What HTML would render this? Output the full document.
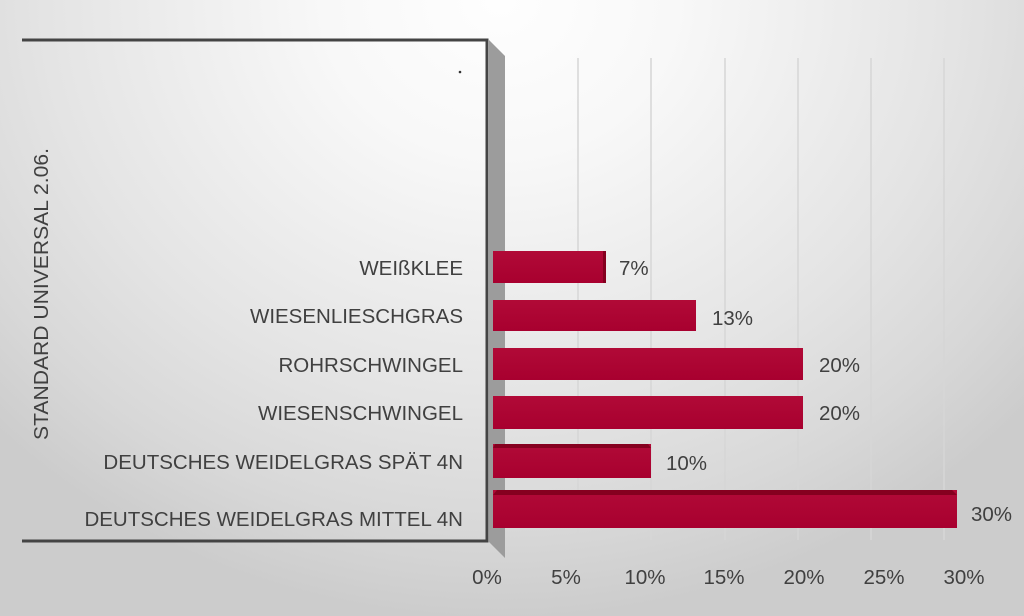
<!DOCTYPE html>
<html><head><style>
html,body{margin:0;padding:0;width:1024px;height:616px;overflow:hidden}
body{background:radial-gradient(ellipse 700px 620px at 500px 0px,#fefefe 0%,#f8f8f8 25%,#eeeeee 45%,#e4e4e4 65%,#d8d8d8 85%,#cccccc 100%)}
text{font-family:"Liberation Sans","DejaVu Sans",sans-serif;fill:#404040}
</style></head><body>
<svg width="1024" height="616" viewBox="0 0 1024 616" xmlns="http://www.w3.org/2000/svg">
<defs>
<linearGradient id="bar" x1="0" y1="0" x2="0" y2="1"><stop offset="0" stop-color="#b10a37"/><stop offset="1" stop-color="#a8002f"/></linearGradient>
</defs>
<polygon points="489,40 505,56 505,558 489,542" fill="#9c9c9c"/>
<g stroke="#d6d6d6" stroke-width="1.5">
<line x1="578" y1="58" x2="578" y2="540"/>
<line x1="651" y1="58" x2="651" y2="540"/>
<line x1="725" y1="58" x2="725" y2="540"/>
<line x1="798" y1="58" x2="798" y2="540"/>
<line x1="871" y1="58" x2="871" y2="540"/>
<line x1="944" y1="58" x2="944" y2="540"/>
</g>
<polyline points="22,40 487,40 487,541 22,541" fill="none" stroke="#444" stroke-width="3"/>
<circle cx="460" cy="72" r="1.3" fill="#333"/>
<text transform="translate(48,294) rotate(-90)" text-anchor="middle" font-size="20.5" textLength="292" lengthAdjust="spacingAndGlyphs">STANDARD UNIVERSAL 2.06.</text>
<g fill="url(#bar)">
<rect x="493" y="251" width="113" height="32"/>
<rect x="493" y="300" width="203" height="31"/>
<rect x="493" y="348" width="310" height="32"/>
<rect x="493" y="396" width="310" height="33"/>
<rect x="493" y="444" width="158" height="34"/>
<rect x="493" y="490" width="464" height="38"/>
</g>
<g fill="#85001f">
<rect x="603" y="251" width="3" height="32"/>
<polygon points="495,444 648,444 651,448 493,448"/>
<polygon points="497,490 952,490 957,495 493,495"/>
</g>
<g font-size="20.5" text-anchor="end">
<text x="463" y="275">WEIßKLEE</text>
<text x="463" y="323">WIESENLIESCHGRAS</text>
<text x="463" y="372">ROHRSCHWINGEL</text>
<text x="463" y="420">WIESENSCHWINGEL</text>
<text x="463" y="469">DEUTSCHES WEIDELGRAS SPÄT 4N</text>
<text x="463" y="526">DEUTSCHES WEIDELGRAS MITTEL 4N</text>
</g>
<g font-size="20.5">
<text x="619" y="275">7%</text>
<text x="712" y="325">13%</text>
<text x="819" y="372">20%</text>
<text x="819" y="420">20%</text>
<text x="666" y="470">10%</text>
<text x="971" y="521">30%</text>
</g>
<g font-size="20.5" text-anchor="middle">
<text x="487" y="584">0%</text>
<text x="566" y="584">5%</text>
<text x="645" y="584">10%</text>
<text x="724" y="584">15%</text>
<text x="804" y="584">20%</text>
<text x="884" y="584">25%</text>
<text x="964" y="584">30%</text>
</g>
</svg>
</body></html>
